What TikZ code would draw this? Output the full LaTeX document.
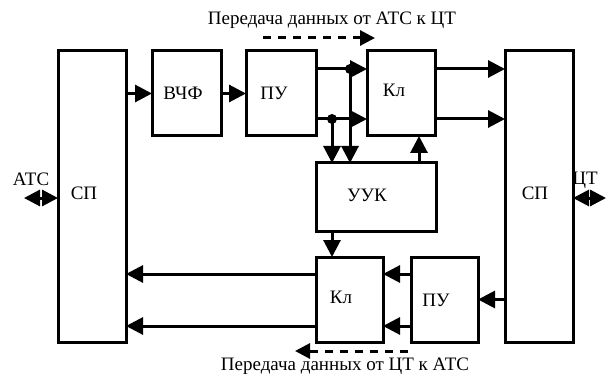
\documentclass[tikz,border=0pt]{standalone}
\usepackage{fontspec}
\setmainfont{Liberation Serif}
\usetikzlibrary{arrows.meta}
\begin{document}
\begin{tikzpicture}[x=1pt,y=-1pt,
  box/.style={draw, line width=3pt, inner sep=0pt, outer sep=0pt, anchor=north west},
  lbl/.style={font=\fontsize{19}{22}\selectfont, inner sep=0pt},
  conn/.style={line width=3pt, -{Triangle[length=17pt,width=17pt]}},
  dbl/.style={line width=3pt, {Triangle[length=16pt,width=16pt]}-{Triangle[length=16pt,width=16pt]}},
  dconn/.style={line width=3pt, dash pattern=on 8pt off 7pt, -{Triangle[length=15pt,width=15pt]}},
  dot/.style={circle, fill, inner sep=0pt, minimum size=10pt}
]
\useasboundingbox (0,0) rectangle (607,374);
% boxes
\node[box, minimum width=68pt, minimum height=291pt] (spL) at (58,51) {};
\node[box, minimum width=69pt, minimum height=85pt] (vchf) at (152,51) {};
\node[box, minimum width=70pt, minimum height=85pt] (puT) at (246,51) {};
\node[box, minimum width=68pt, minimum height=85pt] (klT) at (367,51) {};
\node[box, minimum width=68pt, minimum height=291pt] (spR) at (505,51) {};
\node[box, minimum width=120pt, minimum height=68pt] (uuk) at (316,163) {};
\node[box, minimum width=67pt, minimum height=85pt] (klB) at (316,257) {};
\node[box, minimum width=67pt, minimum height=85pt] (puB) at (411,257) {};
% labels
\node[lbl] (tspL) at (84,193) {СП};
\node[lbl] (tvchf) at (183,93) {ВЧФ};
\node[lbl] (tpuT) at (274,93) {ПУ};
\node[lbl] (tklT) at (394,90) {Кл};
\node[lbl] (tuuk) at (367,195) {УУК};
\node[lbl] (tspR) at (535,193) {СП};
\node[lbl] (tklB) at (341,297) {Кл};
\node[lbl] (tpuB) at (436,300) {ПУ};
\node[lbl] (tatc) at (31,179) {АТС};
\node[lbl] (tct) at (585,180) {ЦТ};
\node[lbl] (ttop) at (332,20) {Передача данных от АТС к ЦТ};
\node[lbl] (tbot) at (345,366) {Передача данных от ЦТ к АТС};
% coordinates
\coordinate (d1) at (350,69);
\coordinate (d2) at (332,119);
\coordinate (cx) at (419,150);
\coordinate (b1) at (0,274);
\coordinate (b2) at (0,326);
\coordinate (atcEnd) at (24,198);
\coordinate (ctEnd) at (606,198);
\coordinate (ts) at (263,38);
\coordinate (te) at (375,38);
\coordinate (bs) at (408,351);
\coordinate (be) at (295,351);
% connectors
\draw[conn] (spL.east |- vchf.west) -- (vchf.west);
\draw[conn] (vchf.east) -- (puT.west);
\draw[conn] (puT.east |- d1) -- (klT.west |- d1);
\draw[conn] (puT.east |- d2) -- (klT.west |- d2);
\draw[conn] (d1) -- (d1 |- uuk.north);
\draw[conn] (d2) -- (d2 |- uuk.north);
\node[dot] (dot1) at (d1) {};
\node[dot] (dot2) at (d2) {};
\draw[conn] (uuk.north -| cx) -- (klT.south -| cx);
\draw[conn] (klT.east |- d1) -- (spR.west |- d1);
\draw[conn] (klT.east |- d2) -- (spR.west |- d2);
\draw[conn] (uuk.south -| d2) -- (klB.north -| d2);
\draw[conn] (spR.west |- puB.east) -- (puB.east);
\draw[conn] (puB.west |- b1) -- (klB.east |- b1);
\draw[conn] (puB.west |- b2) -- (klB.east |- b2);
\draw[conn] (klB.west |- b1) -- (spL.east |- b1);
\draw[conn] (klB.west |- b2) -- (spL.east |- b2);
\draw[dbl] (atcEnd) -- (spL.west |- atcEnd);
\draw[dbl] (spR.east |- ctEnd) -- (ctEnd);
\draw[dconn] (ts) -- (te);
\draw[dconn] (bs) -- (be);
\end{tikzpicture}
\end{document}
